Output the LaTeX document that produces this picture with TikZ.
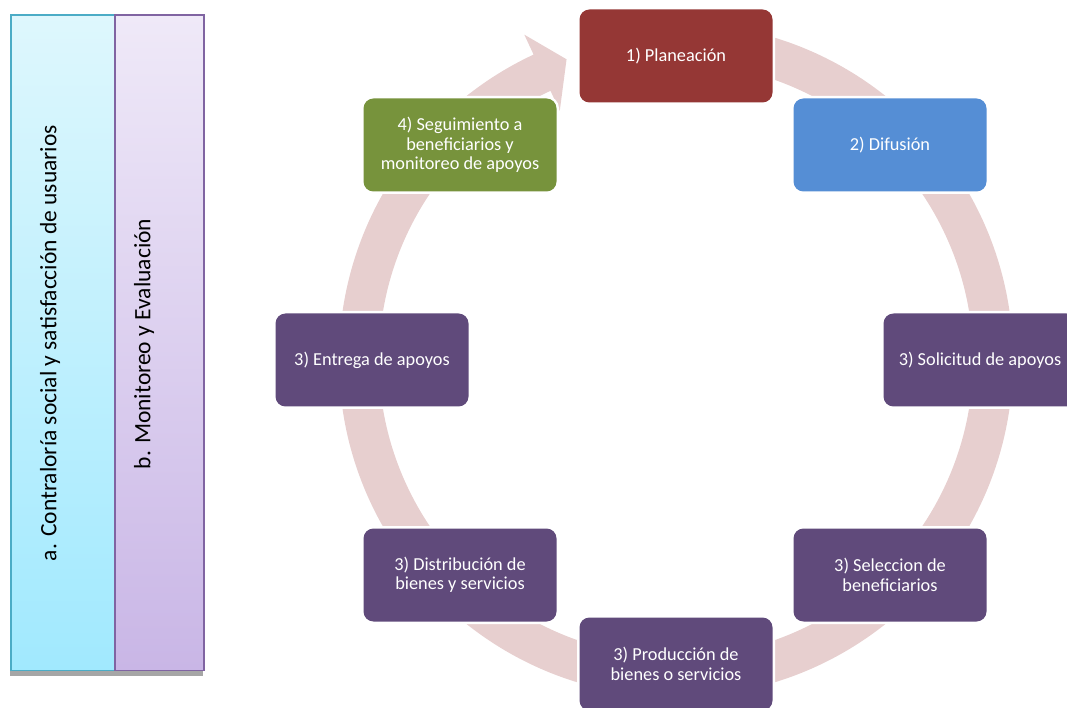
\documentclass[tikz,border=0pt]{standalone}
\usepackage{fontspec}
\setmainfont{Carlito}
\definecolor{ringc}{RGB}{231,207,207}
\definecolor{redc}{RGB}{149,55,53}
\definecolor{bluec}{RGB}{85,142,213}
\definecolor{purc}{RGB}{96,74,123}
\definecolor{grnc}{RGB}{119,147,60}
\definecolor{cyantop}{RGB}{222,247,253}
\definecolor{cyanbot}{RGB}{161,233,254}
\definecolor{cyanbd}{RGB}{75,172,198}
\definecolor{lavtop}{RGB}{239,233,248}
\definecolor{lavbot}{RGB}{201,182,230}
\definecolor{lavbd}{RGB}{128,100,162}
\begin{document}
\begin{tikzpicture}[x=1pt,y=1pt,
  stepbox/.style={rectangle, rounded corners=10pt, minimum width=193pt, minimum height=93pt,
    inner sep=2pt, text=white, align=center, draw=none,
    font=\fontsize{18.3}{19.5}\selectfont, preaction={draw=white, line width=5pt}},
  barlabel/.style={rotate=90, font=\fontsize{23.5}{28}\selectfont, text=black}]
\useasboundingbox (0,0) rectangle (1067,707);
% left bars
\fill[gray!70] (10,31) rectangle (203,687);
\node[draw=cyanbd, line width=1.5pt, top color=cyantop, bottom color=cyanbot,
  minimum width=104pt, minimum height=655pt, inner sep=0pt, anchor=south west] (bara) at (10,36) {};
\node[draw=lavbd, line width=1.5pt, top color=lavtop, bottom color=lavbot,
  minimum width=89pt, minimum height=655pt, inner sep=0pt, anchor=south west] (barb) at (114,36) {};
\node[barlabel] (la) at (50,364) {a. Contraloría social y satisfacción de usuarios};
\node[barlabel] (lb) at (144,363) {b. Monitoreo y Evaluación};
% ring arrow
\begin{scope}[shift={(676,347)}]
\fill[ringc] (88:337) arc[start angle=88, end angle=-245, radius=337]
  -- (-245:359) -- (-250:320) -- (-245:275) -- (-245:297)
  arc[start angle=-245, end angle=88, radius=297] -- cycle;
\end{scope}
% boxes
\node[stepbox, fill=redc] (p1) at (676,651) {1) Planeación};
\node[stepbox, fill=bluec] (p2) at (890,562) {2) Difusión};
\node[stepbox, fill=purc] (p3) at (980,347) {3) Solicitud de apoyos};
\node[stepbox, fill=purc] (p4) at (890,132) {3) Seleccion de\\beneficiarios};
\node[stepbox, fill=purc] (p5) at (676,43) {3) Producción de\\bienes o servicios};
\node[stepbox, fill=purc] (p6) at (460,132) {3) Distribución de\\bienes y servicios};
\node[stepbox, fill=purc] (p7) at (372,347) {3) Entrega de apoyos};
\node[stepbox, fill=grnc] (p8) at (460,562) {4) Seguimiento a\\beneficiarios y\\monitoreo de apoyos};
\end{tikzpicture}
\end{document}
